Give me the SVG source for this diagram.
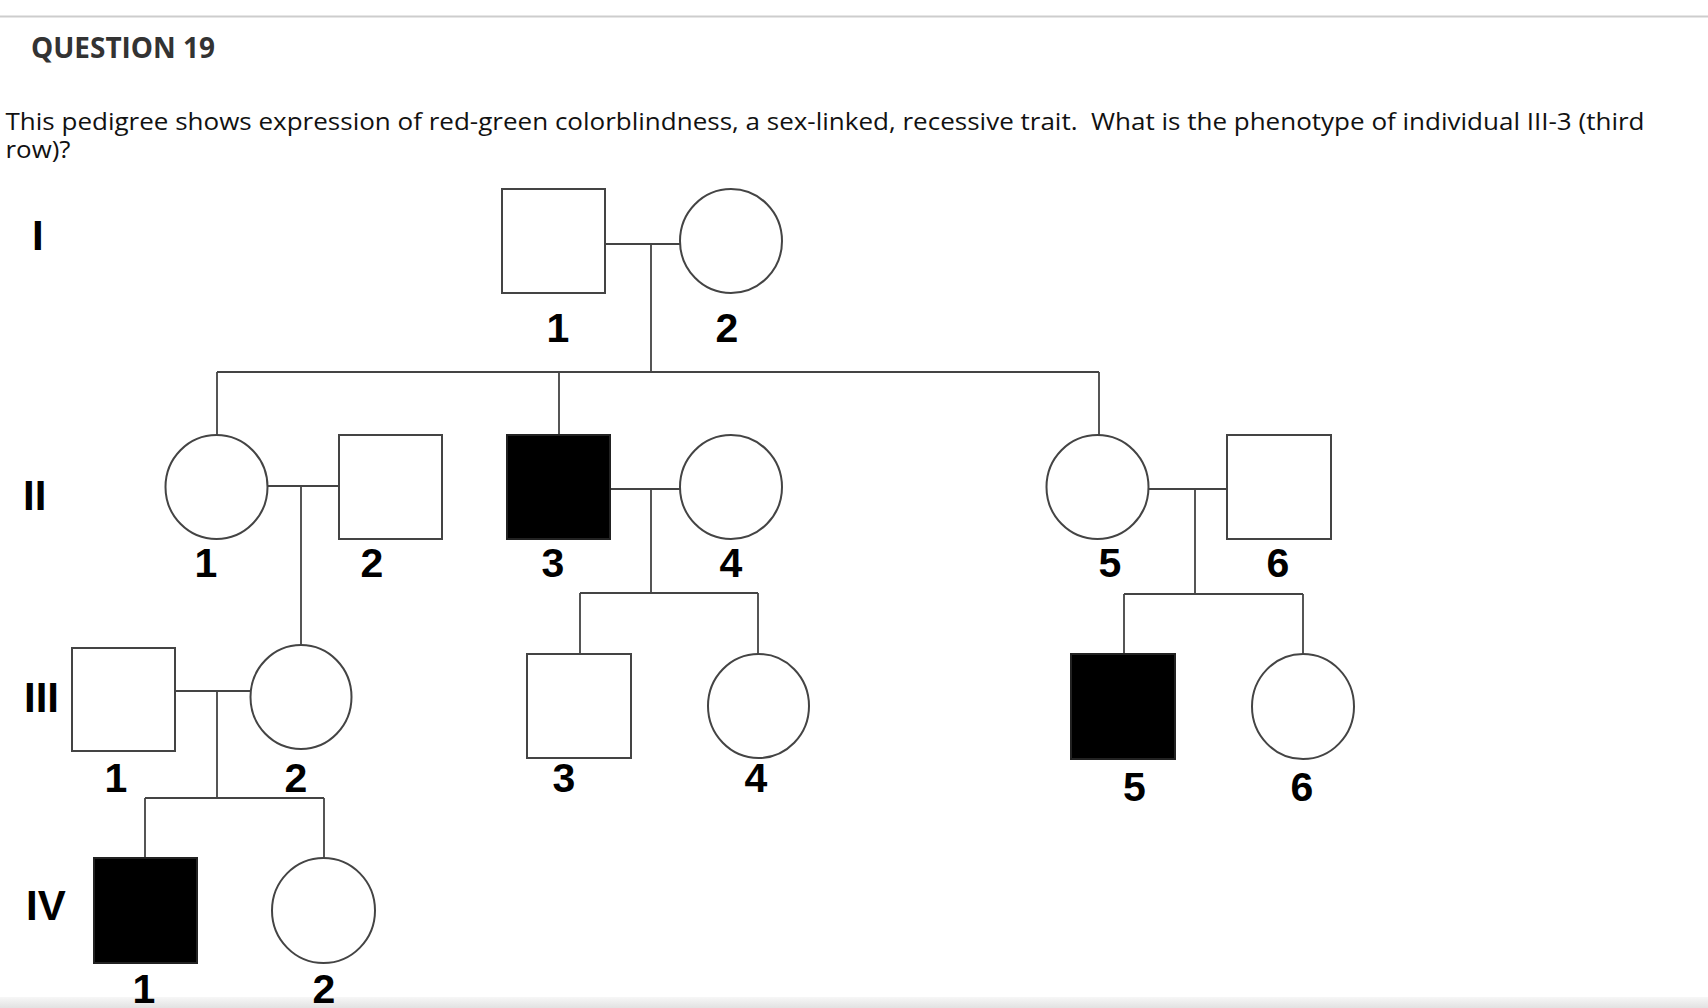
<svg xmlns="http://www.w3.org/2000/svg" width="1708" height="1008" viewBox="0 0 1708 1008">
<defs>
<linearGradient id="band" x1="0" y1="0" x2="0" y2="1">
<stop offset="0" stop-color="#f7f7f7"/>
<stop offset="1" stop-color="#e2e2e2"/>
</linearGradient>
</defs>
<style>
.hdr{font-family:"Open Sans","Liberation Sans",sans-serif;font-weight:bold;font-size:29px;fill:#333}
.para{font-family:"Open Sans","Liberation Sans",sans-serif;font-size:23.5px;fill:#111}
.gen{font-family:"Liberation Sans",Arial,sans-serif;font-weight:bold;font-size:42px;fill:#000}
.num{font-family:"Liberation Sans",Arial,sans-serif;font-weight:bold;font-size:41px;fill:#000;text-anchor:middle}
.m{fill:#fff;stroke:#444;stroke-width:2}
.f{fill:#fff;stroke:#444;stroke-width:2}
.a{fill:#000;stroke:#222;stroke-width:2}
.ln{fill:none;stroke:#444;stroke-width:1.8}
</style>
<rect x="0" y="0" width="1708" height="1008" fill="#fff"/>
<line x1="0" y1="16.5" x2="1708" y2="16.5" stroke="#cdcdcd" stroke-width="2"/>
<rect x="0" y="997" width="1708" height="11" fill="url(#band)"/>
<text class="hdr" x="31" y="58" textLength="184" lengthAdjust="spacingAndGlyphs">QUESTION 19</text>
<text class="para" x="5.5" y="130" xml:space="preserve" textLength="1639" lengthAdjust="spacingAndGlyphs">This pedigree shows expression of red-green colorblindness, a sex-linked, recessive trait.  What is the phenotype of individual III-3 (third</text>
<text class="para" x="5.5" y="158" textLength="65" lengthAdjust="spacingAndGlyphs">row)?</text>

<g id="generations">
<text class="gen" x="32" y="250">I</text>
<text class="gen" x="23" y="510">II</text>
<text class="gen" x="24" y="712">III</text>
<text class="gen" x="26" y="920">IV</text>
</g>

<g id="connectors">
<path class="ln" d="M605 244H680 M651 244V372 M217 372H1099 M217 372V435 M559 372V435 M1099 372V435"/>
<path class="ln" d="M267 486H339 M301 486V645"/>
<path class="ln" d="M610 489H680 M651 489V593 M580 593H758 M580 593V654 M758 593V654"/>
<path class="ln" d="M1148 489H1227 M1195 489V594 M1124 594H1303 M1124 594V654 M1303 594V654"/>
<path class="ln" d="M175 691H250 M217 691V798 M145 798H324 M145 798V858 M324 798V858"/>
</g>

<g id="I-1"><rect class="m" x="502" y="189" width="103" height="104"/><text class="num" x="558" y="342">1</text></g>
<g id="I-2"><ellipse class="f" cx="731" cy="241" rx="51" ry="52"/><text class="num" x="727" y="342">2</text></g>

<g id="II-1"><ellipse class="f" cx="216.5" cy="487" rx="51" ry="52"/><text class="num" x="206" y="577">1</text></g>
<g id="II-2"><rect class="m" x="339" y="435" width="103" height="104"/><text class="num" x="372" y="577">2</text></g>
<g id="II-3"><rect class="a" x="507" y="435" width="103" height="104"/><text class="num" x="553" y="577">3</text></g>
<g id="II-4"><ellipse class="f" cx="731" cy="487" rx="51" ry="52"/><text class="num" x="731" y="577">4</text></g>
<g id="II-5"><ellipse class="f" cx="1097.5" cy="487" rx="51" ry="52"/><text class="num" x="1110" y="577">5</text></g>
<g id="II-6"><rect class="m" x="1227" y="435" width="104" height="104"/><text class="num" x="1278" y="577">6</text></g>

<g id="III-1"><rect class="m" x="72" y="648" width="103" height="103"/><text class="num" x="116" y="792">1</text></g>
<g id="III-2"><ellipse class="f" cx="301" cy="697" rx="50.5" ry="52"/><text class="num" x="296" y="792">2</text></g>
<g id="III-3"><rect class="m" x="527" y="654" width="104" height="104"/><text class="num" x="564" y="792">3</text></g>
<g id="III-4"><ellipse class="f" cx="758.5" cy="706" rx="50.5" ry="52"/><text class="num" x="756" y="792">4</text></g>
<g id="III-5"><rect class="a" x="1071" y="654" width="104" height="105"/><text class="num" x="1134.5" y="801">5</text></g>
<g id="III-6"><ellipse class="f" cx="1303" cy="706.5" rx="51" ry="52.5"/><text class="num" x="1302" y="801">6</text></g>

<g id="IV-1"><rect class="a" x="94" y="858" width="103" height="105"/><text class="num" x="144" y="1003">1</text></g>
<g id="IV-2"><ellipse class="f" cx="323.5" cy="910.5" rx="51.5" ry="52.5"/><text class="num" x="324" y="1003">2</text></g>
</svg>
